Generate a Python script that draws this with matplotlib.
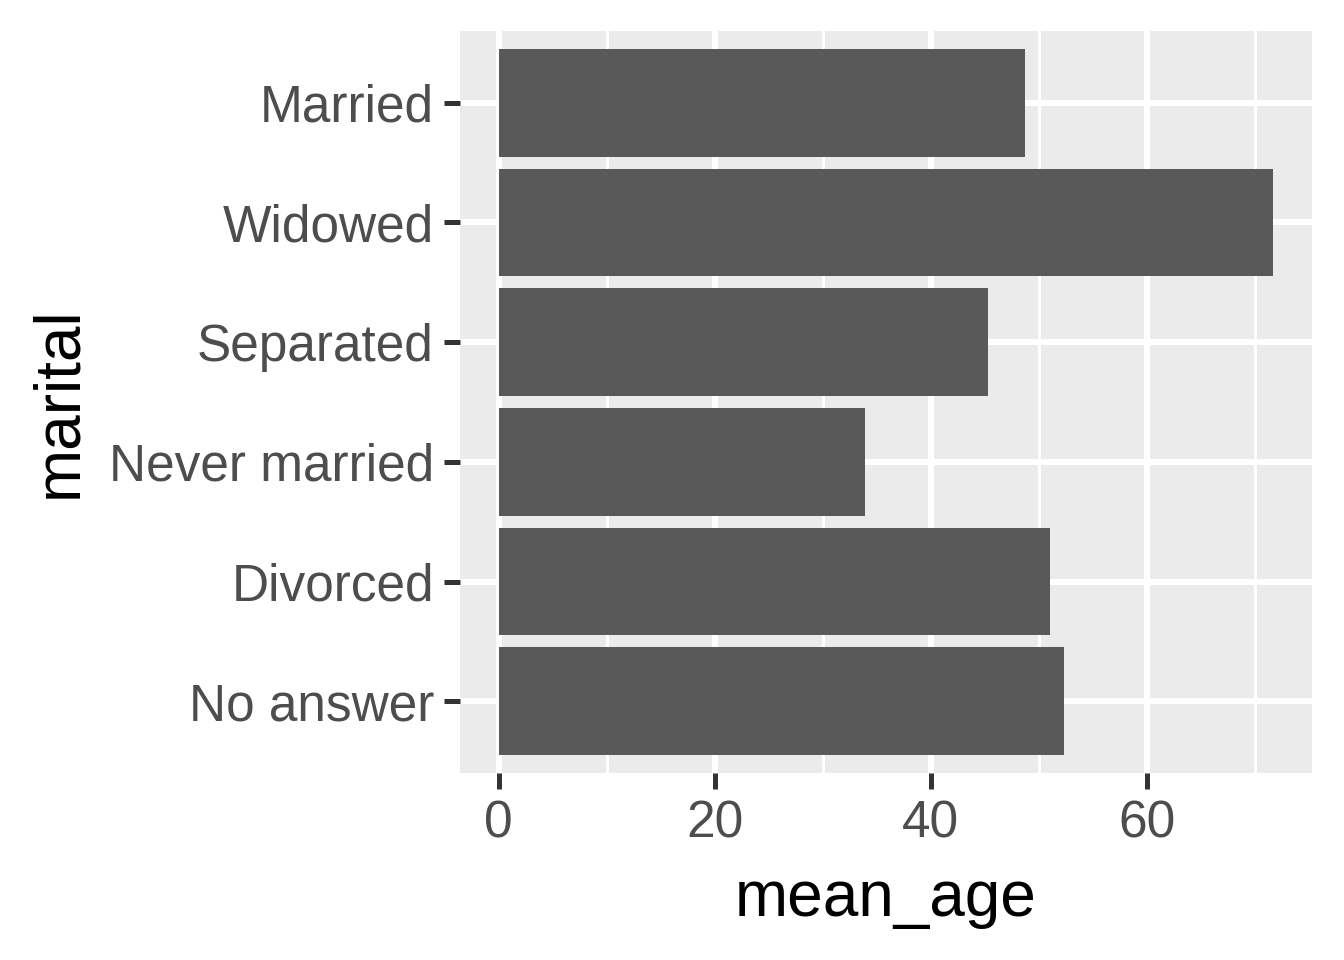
import matplotlib
matplotlib.use("Agg")
import matplotlib.pyplot as plt
import numpy as np

# data
marital = ["No answer", "Divorced", "Never married", "Separated", "Widowed", "Married"]
mean_age = [52.3, 51.0, 33.9, 45.3, 71.7, 48.7]
xticks = [0, 20, 40, 60]

px = 72.0 / 100  # points per pixel at dpi 100

plt.rcParams['font.family'] = ['Liberation Sans', 'DejaVu Sans']

fig = plt.figure(figsize=(13.44, 9.6), dpi=100)
ax = fig.add_axes([460 / 1344, 1 - 773 / 960, (1312 - 460) / 1344, (773 - 31) / 960])
ax.set_facecolor('#EBEBEB')

ypos = np.arange(1, len(marital) + 1)
ax.barh(ypos, mean_age, height=0.9, color='#595959', zorder=3)

xmax = max(mean_age)
ex = 0.05 * xmax
ax.set_xlim(-ex, xmax + ex)
ax.set_ylim(0.4, len(marital) + 0.6)

ax.set_xticks(xticks)
ax.set_xticks([10, 30, 50, 70], minor=True)
ax.set_yticks(ypos)
ax.set_yticklabels(marital)
ax.tick_params(axis='y', which='minor', left=False)

ax.grid(which='major', color='white', linewidth=6 * px, zorder=1)
ax.grid(which='minor', axis='x', color='white', linewidth=3 * px, zorder=1)
ax.tick_params(which='major', length=16 * px, width=5 * px, color='#333333',
               labelsize=37, labelcolor='#4D4D4D', pad=10 * px)
ax.tick_params(which='minor', length=0)
for s in ax.spines.values():
    s.set_visible(False)

ax.set_xlabel('mean_age', fontsize=46, color='black', labelpad=15)
ax.set_ylabel('marital', fontsize=46, color='black', labelpad=14)

fig.savefig('out.png', dpi=100, facecolor='white')
